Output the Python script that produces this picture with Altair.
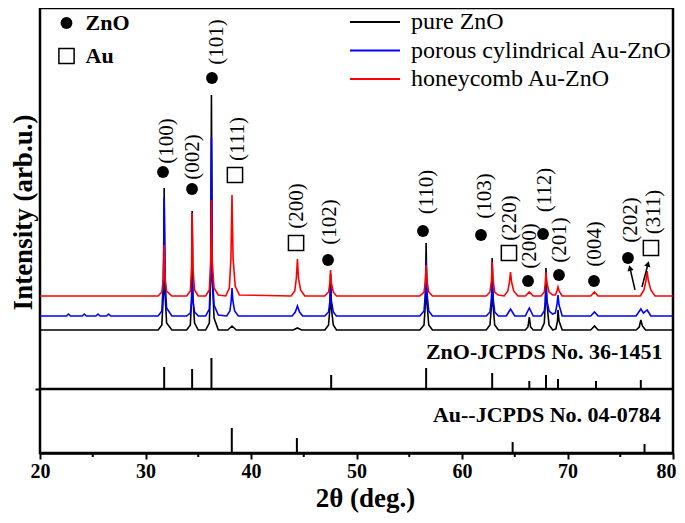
import altair as alt
import pandas as pd

# ---------------- data ----------------
SERIES = ["pure ZnO", "porous cylindrical Au-ZnO", "honeycomb Au-ZnO"]
COLORS = ["#000000", "#0000ff", "#ff0000"]

# pure ZnO (offset baseline 123)
pure_x = [20, 31.2, 31.55, 31.7, 31.77, 31.85, 32.0, 32.5,
          33.9, 34.25, 34.37, 34.42, 34.5, 34.65, 35.0,
          35.7, 36.05, 36.18, 36.25, 36.33, 36.5, 36.9,
          37.8, 38.2, 38.6, 44.0, 44.4, 44.8,
          47.0, 47.35, 47.48, 47.54, 47.62, 47.8, 48.1,
          56.0, 56.4, 56.53, 56.6, 56.68, 56.85, 57.2,
          62.3, 62.65, 62.8, 62.86, 62.95, 63.1, 63.45,
          66.0, 66.25, 66.38, 66.5, 66.75,
          67.5, 67.8, 67.9, 67.96, 68.05, 68.25, 68.6,
          68.9, 69.05, 69.1, 69.2, 69.5,
          72.2, 72.56, 72.9, 76.5, 76.8, 76.95, 77.1, 77.4, 80]
pure_y = [123, 123, 128, 160, 265, 160, 130, 123,
          123, 128, 155, 242, 155, 130, 123,
          123, 130, 175, 358, 175, 135, 123,
          123, 127, 123, 123, 125, 123,
          123, 128, 145, 179, 145, 128, 123,
          123, 128, 150, 210, 150, 128, 123,
          123, 128, 148, 195, 148, 128, 123,
          123, 126, 136, 126, 123,
          123, 130, 150, 185, 150, 128, 123,
          124, 132, 143, 132, 123,
          123, 127, 123, 123, 126, 133, 127, 123, 123]

# porous cylindrical Au-ZnO (offset baseline 137)
porous_x = [20, 22.5, 22.7, 22.9, 24.0, 24.2, 24.4, 25.3, 25.5, 25.7, 26.3, 26.5, 26.7,
            31.2, 31.55, 31.7, 31.77, 31.85, 32.0, 32.5,
            33.9, 34.25, 34.37, 34.42, 34.5, 34.65, 35.0,
            35.7, 36.05, 36.18, 36.25, 36.33, 36.5, 36.9,
            37.7, 38.0, 38.12, 38.2, 38.28, 38.45, 38.8,
            43.9, 44.2, 44.4, 44.6, 44.9,
            47.0, 47.35, 47.48, 47.54, 47.62, 47.8, 48.1,
            56.0, 56.4, 56.53, 56.6, 56.68, 56.85, 57.2,
            62.3, 62.65, 62.8, 62.86, 62.95, 63.1, 63.45,
            64.2, 64.6, 65.0, 66.0, 66.38, 66.75,
            67.5, 67.8, 67.9, 67.96, 68.05, 68.25, 68.6,
            68.85, 69.0, 69.1, 69.2, 69.5,
            72.2, 72.56, 72.9, 76.5, 76.95, 77.2, 77.55, 77.9, 80]
porous_y = [137, 137, 139, 137, 137, 139, 137, 137, 139, 137, 137, 139, 137,
            137, 142, 175, 255, 175, 145, 137,
            137, 140, 152, 173, 152, 141, 137,
            137, 144, 180, 315, 180, 148, 138,
            137, 142, 152, 165, 152, 142, 137,
            137, 141, 147, 141, 137,
            137, 141, 152, 165, 152, 141, 137,
            137, 142, 160, 193, 160, 142, 137,
            137, 141, 155, 170, 155, 141, 137,
            137, 144, 137, 137, 145, 137,
            137, 142, 152, 165, 152, 142, 139,
            140, 148, 158, 148, 137,
            137, 141, 137, 137, 144, 140, 143, 137, 137]

# honeycomb Au-ZnO (offset baseline 157)
honey_x = [20, 31.2, 31.55, 31.7, 31.77, 31.85, 32.0, 32.5,
           33.9, 34.25, 34.37, 34.42, 34.5, 34.65, 35.0,
           35.7, 36.05, 36.18, 36.25, 36.33, 36.5, 36.9,
           37.6, 37.95, 38.1, 38.2, 38.3, 38.5, 38.9,
           43.8, 44.15, 44.3, 44.4, 44.5, 44.7, 45.1,
           47.0, 47.35, 47.48, 47.54, 47.62, 47.8, 48.1,
           56.0, 56.4, 56.53, 56.6, 56.68, 56.85, 57.2,
           62.3, 62.65, 62.8, 62.86, 62.95, 63.1, 63.45,
           64.0, 64.35, 64.5, 64.6, 64.7, 64.9, 65.3,
           66.0, 66.38, 66.75,
           67.5, 67.8, 67.9, 67.96, 68.05, 68.25, 68.6,
           68.85, 69.0, 69.1, 69.2, 69.5,
           72.2, 72.56, 72.9,
           76.9, 77.25, 77.45, 77.55, 77.65, 77.9, 78.3, 80]
honey_y = [157, 157, 161, 175, 208, 175, 162, 157,
           157, 162, 185, 240, 185, 163, 157,
           157, 163, 190, 253, 190, 165, 158,
           157, 165, 195, 258, 195, 167, 158,
           157, 162, 175, 194, 175, 163, 157,
           157, 161, 170, 183, 170, 161, 157,
           157, 161, 172, 188, 172, 161, 157,
           157, 161, 173, 191, 173, 161, 158,
           157, 162, 171, 181, 171, 162, 157,
           157, 161, 157,
           157, 161, 170, 181, 170, 161, 158,
           158, 162, 166, 162, 157,
           157, 161, 157,
           157, 163, 173, 182, 173, 163, 157, 157]

# standard reference sticks
ZNO_REF_BASE = 64
zno_ref_pos = [31.77, 34.42, 36.25, 47.6, 56.6, 62.86, 66.38, 67.96, 69.1, 72.7, 76.95]
zno_ref_int = [22, 20, 31, 14, 21, 16, 8, 14, 10, 8, 9]
AU_REF_BASE = 0
au_ref_pos = [38.18, 44.35, 64.8, 77.3]
au_ref_int = [25, 15, 11, 9]
ref_titles = ["ZnO-JCPDS  No. 36-1451", "Au--JCPDS  No. 04-0784"]

# peak indexing labels
hkl_labels = ["(100)", "(002)", "(101)", "(111)", "(200)", "(102)", "(110)", "(103)",
              "(220)", "(200)", "(112)", "(201)", "(004)", "(202)", "(311)"]
hkl_phase = ["ZnO", "ZnO", "ZnO", "Au", "Au", "ZnO", "ZnO", "ZnO",
             "Au", "ZnO", "ZnO", "ZnO", "ZnO", "ZnO", "Au"]
hkl_text_x = [32.04, 34.50, 36.78, 38.77, 44.36, 47.49, 56.68, 62.18,
              64.55, 66.45, 67.87, 69.29, 72.61, 76.02, 78.20]
hkl_text_y = [312, 296, 411, 314, 247, 231, 261, 257, 235, 207, 263, 213, 209, 233, 241]
hkl_mark_x = [31.66, 34.41, 36.30, 38.48, 44.27, 47.30, 56.30, 61.80,
              64.45, 66.26, 67.68, 69.19, 72.51, 75.73, 77.91]
hkl_mark_y = [281, 264, 375, 278, 210, 193, 222, 218, 200, 172, 219, 178, 172, 195, 205]

# small arrows near (202)/(311)
arrow_x0 = [76.40, 77.06]
arrow_y0 = [163, 166]
arrow_x1 = [75.92, 77.63]
arrow_y1 = [185, 189]
arrow_angle = [347, 15]

major_ticks = [20, 30, 40, 50, 60, 70, 80]
minor_ticks = [25, 35, 45, 55, 65, 75]

# ---------------- tables ----------------
curves = pd.concat([
    pd.DataFrame({"two_theta": pure_x, "intensity": pure_y, "series": SERIES[0]}),
    pd.DataFrame({"two_theta": porous_x, "intensity": porous_y, "series": SERIES[1]}),
    pd.DataFrame({"two_theta": honey_x, "intensity": honey_y, "series": SERIES[2]}),
], ignore_index=True)

refs = pd.concat([
    pd.DataFrame({"pos": zno_ref_pos, "y0": ZNO_REF_BASE,
                  "y1": [ZNO_REF_BASE + v for v in zno_ref_int]}),
    pd.DataFrame({"pos": au_ref_pos, "y0": AU_REF_BASE,
                  "y1": [AU_REF_BASE + v for v in au_ref_int]}),
], ignore_index=True)

ref_text = pd.DataFrame({"label": ref_titles, "x": [79.0, 78.85], "y": [101, 38]})
hkl_text = pd.DataFrame({"label": hkl_labels, "x": hkl_text_x, "y": hkl_text_y})
hkl_mark = pd.DataFrame({"phase": hkl_phase, "x": hkl_mark_x, "y": hkl_mark_y})
arrows = pd.DataFrame({"x0": arrow_x0, "y0": arrow_y0, "x1": arrow_x1, "y1": arrow_y1,
                       "angle": arrow_angle})
minor = pd.DataFrame({"x": minor_ticks})
sep = pd.DataFrame({"y": [ZNO_REF_BASE]})

# ---------------- chart ----------------
FONT = "Liberation Serif"
W, H = 633, 445
xs = alt.Scale(domain=[20, 80], nice=False, zero=False)
ys = alt.Scale(domain=[0, 445], nice=False, zero=False)

x_axis = alt.Axis(values=major_ticks, format="d", title="2θ (deg.)", grid=False,
                  labelFont=FONT, labelFontSize=20, labelFontWeight="bold", labelColor="black",
                  labelAlign={"condition": {"test": "datum.value == 80", "value": "right"},
                              "value": "center"},
                  labelOffset={"condition": {"test": "datum.value == 80", "value": 3},
                               "value": 0},
                  labelPadding=2, tickSize=6, tickWidth=2, tickColor="black",
                  domainColor="black", domainWidth=2.5,
                  titleFont=FONT, titleFontSize=27, titleFontWeight="bold", titleColor="black",
                  titleX=325, titleY=53, titleBaseline="alphabetic", titleAlign="center")
y_axis = alt.Axis(values=[ZNO_REF_BASE], labels=False, grid=False, domain=False,
                  tickSize=5, tickWidth=2, tickColor="black",
                  title="Intensity (arb.u.)", titleFont=FONT, titleFontSize=27,
                  titleFontWeight="bold", titleColor="black",
                  titleX=-3, titleY=204, titleBaseline="bottom", titleAlign="center")


def X(field):
    return alt.X(field, scale=xs, axis=x_axis)


def Y(field):
    return alt.Y(field, scale=ys, axis=y_axis)


color = alt.Color("series:N", scale=alt.Scale(domain=SERIES, range=COLORS),
                  legend=alt.Legend(title=None, orient="none", legendX=323, legendY=2,
                                    symbolType="M-2.5,0H2.5", symbolSize=400,
                                    symbolStrokeWidth=2, labelFont=FONT, labelFontSize=24,
                                    labelColor="black", labelOffset=24, rowPadding=4.5,
                                    padding=0, labelLimit=400))

layers = []
for s in SERIES:
    layers.append(
        alt.Chart(curves).transform_filter(alt.datum.series == s)
        .mark_line(strokeWidth=1.6, clip=True)
        .encode(x=X("two_theta:Q"), y=Y("intensity:Q"), color=color)
    )

sticks = alt.Chart(refs).mark_rule(strokeWidth=2, color="black").encode(
    x=X("pos:Q"), y=Y("y0:Q"), y2="y1:Q")

separator = alt.Chart(sep).mark_rule(strokeWidth=2.5, color="black").encode(y=Y("y:Q"))

minor_rules = alt.Chart(minor).mark_rule(strokeWidth=2, color="black").encode(
    x=X("x:Q"), y=alt.value(H), y2=alt.value(H + 4))

ref_labels = alt.Chart(ref_text).mark_text(
    font=FONT, fontSize=22, fontWeight="bold", align="right", baseline="middle",
    color="black").encode(x=X("x:Q"), y=Y("y:Q"), text="label:N")

hkl_labels_chart = alt.Chart(hkl_text).mark_text(
    font=FONT, fontSize=21, angle=270, align="center", baseline="middle",
    color="black").encode(x=X("x:Q"), y=Y("y:Q"), text="label:N")

# open square drawn as a filled ring so the marker can be filled black like the dot
SQUARE_RING = "M-1,-1H1V1H-1Z M-0.82,-0.82V0.82H0.82V-0.82Z"
phase_legend = alt.Legend(title=None, orient="none", legendX=15.5, legendY=4,
                          labelFont=FONT, labelFontWeight="bold", labelFontSize=22,
                          labelColor="black", labelOffset=8, rowPadding=11, padding=0,
                          symbolFillColor="black", symbolStrokeWidth=0)
markers = alt.Chart(hkl_mark).mark_point(filled=True, color="black", opacity=1,
                                         strokeWidth=0).encode(
    x=X("x:Q"), y=Y("y:Q"),
    shape=alt.Shape("phase:N", scale=alt.Scale(domain=["ZnO", "Au"],
                                               range=["circle", SQUARE_RING]),
                    legend=phase_legend),
    size=alt.Size("phase:N", scale=alt.Scale(domain=["ZnO", "Au"], range=[140, 280]),
                  legend=phase_legend),
)

arrow_lines = alt.Chart(arrows).mark_rule(strokeWidth=1.5, color="black").encode(
    x=X("x0:Q"), y=Y("y0:Q"), x2="x1:Q", y2="y1:Q")
arrow_heads = alt.Chart(arrows).mark_point(shape="triangle-up", filled=True, color="black",
                                           size=40, opacity=1).encode(
    x=X("x1:Q"), y=Y("y1:Q"), angle=alt.Angle("angle:Q", scale=None))

chart = alt.layer(
    *layers, sticks, separator, minor_rules, ref_labels, hkl_labels_chart, markers,
    arrow_lines, arrow_heads
).properties(
    width=W, height=H,
    background="white",
    autosize=alt.AutoSizeParams(type="none"),
    padding={"left": 32, "top": 0, "right": 4, "bottom": 62},
).configure_view(stroke="black", strokeWidth=2.5)

chart.save("out.html", embed_options={"renderer": "svg", "actions": False})
